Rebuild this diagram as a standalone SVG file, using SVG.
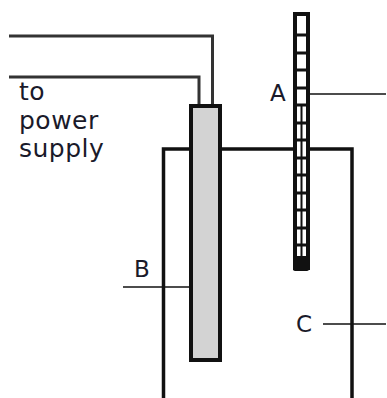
<svg xmlns="http://www.w3.org/2000/svg" width="387" height="398" viewBox="0 0 387 398">
<style>
.t{font-family:"DejaVu Sans",Verdana,sans-serif;font-size:23px;fill:#1a1a2a}
.s{font-size:25px;letter-spacing:0.500px}
.w{fill:none;stroke:#333;stroke-width:3}
.k{fill:none;stroke:#111;stroke-width:3.500}
.l{fill:none;stroke:#111;stroke-width:1.500}
</style>
<rect width="387" height="398" fill="#fff"/>
<g id="connectors">
<path class="w" d="M9 36H212.500V106"/>
<path class="w" d="M9 77H199V106"/>
<path class="l" d="M310 94H386"/>
<path class="l" d="M123 287H211"/>
<path class="l" d="M323 324H386"/>
</g>
<g id="node-C"><path class="k" d="M163.500 398V149H191M220 149H352V398"/><text class="t" x="296" y="332">C</text></g>
<g id="node-B"><rect x="191" y="106" width="29" height="254" fill="#d3d3d3" stroke="#111" stroke-width="4"/><text class="t" x="134" y="277">B</text></g>
<g id="node-A">
<rect x="295" y="14" width="13" height="254" fill="#fff" stroke="#111" stroke-width="4"/>
<path d="M301.500 104V256" stroke="#111" stroke-width="2" fill="none"/>
<path d="M296 35H307M296 53H307M296 70H307M296 88H307M296 105H307M296 123H307M296 140H307M296 158H307M296 175H307M296 193H307M296 210H307M296 228H307M296 245H307" stroke="#111" stroke-width="3" fill="none"/>
<rect x="293" y="256" width="16" height="15" rx="2" fill="#111"/>
<text class="t" x="270" y="101">A</text>
</g>
<g id="label-supply"><text class="t s" x="19" y="100">to</text><text class="t s" x="19" y="129">power</text><text class="t s" x="19" y="157">supply</text></g>
</svg>
